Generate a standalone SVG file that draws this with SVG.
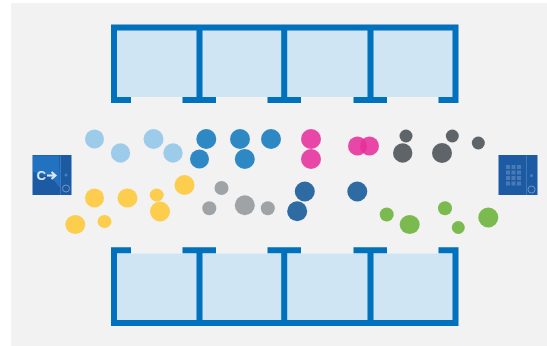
<svg xmlns="http://www.w3.org/2000/svg" width="547" height="346" viewBox="0 0 547 346">
<style>
.room{fill:#cfe5f4}
.wall{fill:none;stroke:#0071bc;stroke-width:6}
.lb{fill:#9dcbea}.b{fill:#2e88c4}.p{fill:#e62f9c;fill-opacity:.88}.dg{fill:#5f6468}
.y{fill:#fdcd4e}.g{fill:#a0a3a5}.db{fill:#2f6ba3}.gr{fill:#7aba4f}
.panel{fill:#1c5aa3}
.ic{fill:none;stroke:#6f97c6;stroke-width:1}
.key{fill:#4f7fb8}
.keyp{fill:#4a7ab5}
</style>
<rect x="0" y="0" width="547" height="346" fill="#fff"/>
<rect x="11" y="3" width="536" height="343" fill="#f2f2f2"/>
<g id="room-top">
<rect class="room" x="114" y="27.500" width="341.500" height="69.500"/>
<path class="wall" d="M131 100H114V27.500H455.500V100H438.500M182.500 100H216M267.500 100H301M353.500 100H387M199.500 27.500V100M284.200 27.500V100M370.500 27.500V100"/>
</g>
<g id="room-bottom">
<rect class="room" x="114" y="253.500" width="341.500" height="69.500"/>
<path class="wall" d="M131 250.300H114V323H455.500V250.300H438.500M182.500 250.300H216M267.500 250.300H301M353.500 250.300H387M199.500 250.300V323M284.200 250.300V323M370.500 250.300V323"/>
</g>
<g id="reader-left">
<rect class="panel" x="32.500" y="155" width="39" height="40"/>
<path d="M33 155.500H59L60 188L52 178L33 172Z" fill="#2272c2"/>
<path d="M60.500 155.500V195" stroke="#3f76b5" stroke-width="1"/>
<text x="36.500" y="180" font-family="Liberation Sans, sans-serif" font-size="13" font-weight="700" fill="#dfe8f3">C</text>
<path d="M47 175.500H55M51.500 172L55.500 175.500L51.500 179" fill="none" stroke="#dfe8f3" stroke-width="2"/>
<circle class="key" cx="66" cy="175" r="1.500"/>
<circle class="ic" cx="66" cy="188.500" r="3.500"/>
</g>
<g id="reader-right">
<rect class="panel" x="498.500" y="155" width="39" height="40"/>
<path d="M526.500 155.500V195" stroke="#3f76b5" stroke-width="1"/>
<path class="keyp" d="M506 165h4v4h-4zM511.500 165h4v4h-4zM517 165h4v4h-4zM506 170.500h4v4h-4zM511.500 170.500h4v4h-4zM517 170.500h4v4h-4zM506 176h4v4h-4zM511.500 176h4v4h-4zM517 176h4v4h-4zM506 181.500h4v4h-4zM511.500 181.500h4v4h-4zM517 181.500h4v4h-4z"/>
<circle class="key" cx="531.500" cy="175.500" r="1.500"/>
<circle class="ic" cx="531.500" cy="189.500" r="3.500"/>
</g>
<g id="dots-light-blue">
<circle class="lb" cx="94.500" cy="139" r="9.500"/><circle class="lb" cx="120.500" cy="153" r="9.700"/><circle class="lb" cx="153.500" cy="139" r="10"/><circle class="lb" cx="173" cy="153" r="9.700"/>
</g>
<g id="dots-blue">
<circle class="b" cx="206.300" cy="139" r="10"/><circle class="b" cx="199.500" cy="159" r="9.500"/><circle class="b" cx="240" cy="139" r="10"/><circle class="b" cx="244.800" cy="159" r="10"/><circle class="b" cx="271" cy="139" r="10"/>
</g>
<g id="dots-pink">
<circle class="p" cx="311" cy="139" r="10"/><circle class="p" cx="311" cy="159" r="10"/><circle class="p" cx="357.500" cy="146" r="9.500"/><circle class="p" cx="369.500" cy="146" r="9.500"/>
</g>
<g id="dots-dark-grey">
<circle class="dg" cx="406" cy="136" r="6.500"/><circle class="dg" cx="402.700" cy="153" r="9.700"/><circle class="dg" cx="442" cy="153" r="10"/><circle class="dg" cx="452.300" cy="136" r="6.500"/><circle class="dg" cx="478.300" cy="143" r="6.500"/>
</g>
<g id="dots-yellow">
<circle class="y" cx="94.500" cy="198" r="9.500"/><ellipse class="y" cx="127.500" cy="198" rx="10" ry="9.500"/><ellipse class="y" cx="156.700" cy="195" rx="7" ry="6.500"/><circle class="y" cx="160" cy="211.500" r="10"/><circle class="y" cx="184.500" cy="185" r="10"/><ellipse class="y" cx="75.300" cy="224.500" rx="10" ry="9.500"/><ellipse class="y" cx="104.500" cy="221.500" rx="7" ry="6.500"/>
</g>
<g id="dots-grey">
<circle class="g" cx="221.500" cy="188" r="7"/><circle class="g" cx="209.300" cy="208.300" r="7"/><circle class="g" cx="244.800" cy="205.300" r="10"/><circle class="g" cx="267.800" cy="208.300" r="7"/>
</g>
<g id="dots-dark-blue">
<circle class="db" cx="304.800" cy="191.500" r="10"/><circle class="db" cx="297.200" cy="211.300" r="10"/><circle class="db" cx="357.300" cy="191.500" r="10"/>
</g>
<g id="dots-green">
<circle class="gr" cx="386.700" cy="214.500" r="7"/><ellipse class="gr" cx="409.700" cy="224.500" rx="10" ry="9.500"/><circle class="gr" cx="445" cy="208.300" r="7"/><circle class="gr" cx="458.300" cy="227.500" r="6.500"/><circle class="gr" cx="488.300" cy="217.500" r="10"/>
</g>
</svg>
